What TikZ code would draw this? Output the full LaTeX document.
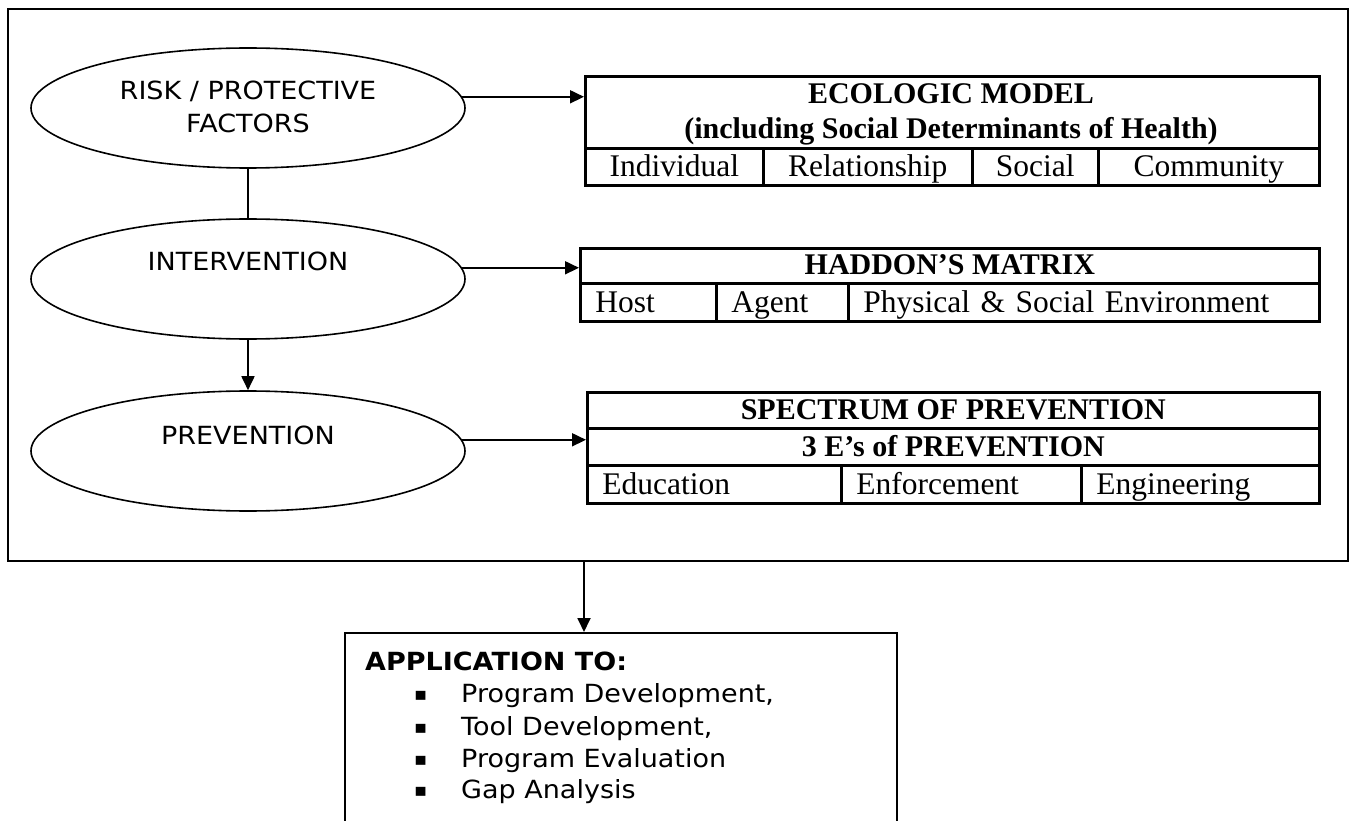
\documentclass[tikz,border=0pt]{standalone}
\usepackage{fontspec}
\usetikzlibrary{shapes.geometric,arrows.meta}
\newfontfamily\sansf[FakeStretch=1.08]{DejaVu Sans}
\newfontfamily\serf{Liberation Serif}
\newcommand{\sqbullet}{\makebox[47pt][l]{\fontsize{18}{18}\selectfont\raisebox{1.8pt}{▪}}}

\begin{document}
\begin{tikzpicture}[x=1pt,y=-1pt,
  ell/.style={ellipse, draw, line width=1.6pt, minimum width=434pt, minimum height=120pt, inner sep=0pt},
  etxt/.style={font=\sansf\fontsize{25}{30}\selectfont, inner sep=0pt, anchor=base},
  atxt/.style={font=\sansf\fontsize{25}{32}\selectfont, inner sep=0pt, anchor=base west},
  arr/.style={line width=1.8pt, -{Triangle[length=14pt,width=13pt]}},
  link/.style={line width=1.8pt},
  cell/.style={draw, line width=2.6pt, anchor=north west, inner sep=0pt, text depth=8.5pt,
    font=\serf\fontsize{31.5}{35}\selectfont},
  head/.style={font=\serf\bfseries\fontsize{30}{35}\selectfont},
  lcell/.style={cell, align=left, inner xsep=15pt},
  frm/.style={draw, line width=2pt, anchor=north west, inner sep=0pt}
]
\useasboundingbox (0,0) rectangle (1353,821);
\clip (0,0) rectangle (1353,821);

% outer frame
\node[frm, minimum width=1340pt, minimum height=552pt] (frame) at (7,8) {};

% left column: the three stages
\node[ell] (risk)   at (248,108) {};
\node[ell] (interv) at (248,279) {};
\node[ell] (prev)   at (248,451) {};
\node[etxt] (risk-l1)  at (248,100) {RISK / PROTECTIVE};
\node[etxt] (risk-l2)  at (248,133) {FACTORS};
\node[etxt] (interv-l) at (248,271) {INTERVENTION};
\node[etxt] (prev-l)   at (248,444) {PREVENTION};

% ecologic model table
\node[cell, minimum width=734pt, minimum height=72pt] (eco-title) at (584,75) {};
\node[head, anchor=base, inner sep=0pt] (eco-h1) at (951,104) {ECOLOGIC MODEL};
\node[head, anchor=base, inner sep=0pt] (eco-h2) at (951,139) {(including Social Determinants of Health)};
\node[cell, minimum width=178pt, minimum height=37pt, text height=28.5pt] (eco-ind) at (584,147) {Individual};
\node[cell, minimum width=209pt, minimum height=37pt, text height=28.5pt] (eco-rel) at (762,147) {Relationship};
\node[cell, minimum width=126pt, minimum height=37pt, text height=28.5pt] (eco-soc) at (971,147) {Social};
\node[cell, minimum width=221pt, minimum height=37pt, text height=28.5pt] (eco-com) at (1097,147) {Community};

% Haddon's matrix table
\node[cell, head, minimum width=739pt, minimum height=35pt, text height=26.5pt] (had-title) at (579,247) {HADDON’S MATRIX};
\node[lcell, text width=106pt, minimum height=38pt, text height=29.5pt] (had-host)  at (579,282) {Host};
\node[lcell, text width=102pt, minimum height=38pt, text height=29.5pt] (had-agent) at (715,282) {Agent};
\node[lcell, text width=441pt, minimum height=38pt, text height=29.5pt] (had-env)   at (847,282) {Physical \& Social Environment};

% spectrum of prevention table
\node[cell, head, minimum width=732pt, minimum height=36pt, text height=27pt] (spe-title) at (586,391) {SPECTRUM OF PREVENTION};
\node[cell, head, minimum width=732pt, minimum height=37pt, text height=28pt] (spe-sub)   at (586,427) {3 E’s of PREVENTION};
\node[lcell, text width=224pt, minimum height=38pt, text height=29.5pt] (spe-edu) at (586,464)  {Education};
\node[lcell, text width=210pt, minimum height=38pt, text height=29.5pt] (spe-enf) at (840,464)  {Enforcement};
\node[lcell, text width=208pt, minimum height=38pt, text height=29.5pt] (spe-eng) at (1080,464) {Engineering};

% connectors
\draw[link] (risk.south) -- (interv.north);
\draw[arr] (interv.south) -- (prev.north);
\draw[arr] (risk.3) -- (risk.3 -| eco-title.west);
\draw[arr] (interv.3) -- (interv.3 -| had-title.west);
\draw[arr] (prev.3) -- (prev.3 -| spe-sub.west);

% application box
\node[frm, minimum width=552pt, minimum height=260pt] (app) at (344,632) {};
\coordinate (drop) at (584,600);
\draw[arr] (frame.south -| drop) -- (app.north -| drop);

\node[atxt, font=\sansf\bfseries\fontsize{25}{32}\selectfont] (app-head) at (365,670) {APPLICATION TO:};
\node[atxt] (app-i1) at (414,702) {\sqbullet Program Development,};
\node[atxt] (app-i2) at (414,735) {\sqbullet Tool Development,};
\node[atxt] (app-i3) at (414,767) {\sqbullet Program Evaluation};
\node[atxt] (app-i4) at (414,798) {\sqbullet Gap Analysis};
\end{tikzpicture}
\end{document}
